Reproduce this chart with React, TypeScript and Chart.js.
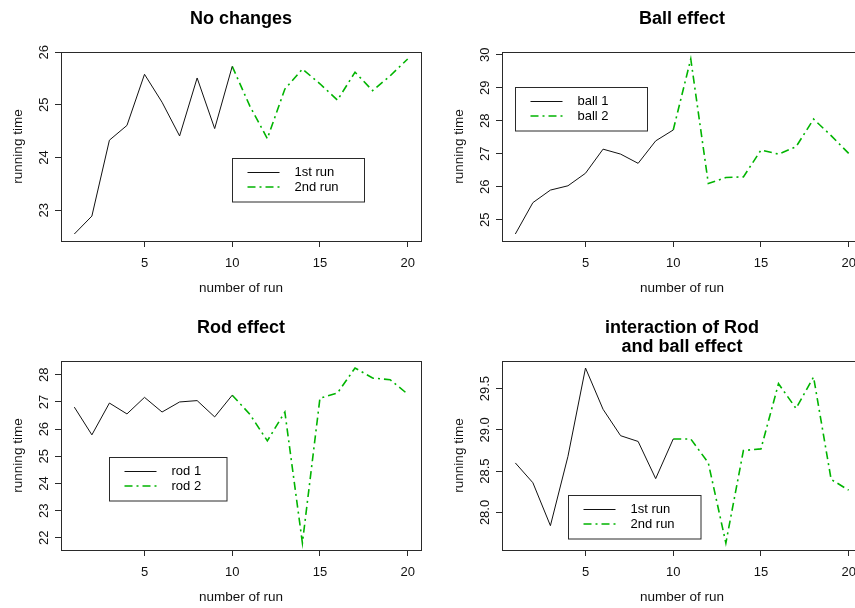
import React, { useEffect, useRef } from "react";
import { Chart, registerables } from "chart.js";

Chart.register(...registerables);

// ---------------- data ----------------
const firstRuns = [1, 2, 3, 4, 5, 6, 7, 8, 9, 10];
const secondRuns = [10, 11, 12, 13, 14, 15, 16, 17, 18, 19, 20];
const xTickValues = [5, 10, 15, 20];

// No changes
const noChange1st = [22.55, 22.89, 24.33, 24.61, 25.58, 25.05, 24.41, 25.51, 24.55, 25.73];
const noChange2nd = [25.73, 24.98, 24.36, 25.3, 25.68, 25.4, 25.09, 25.62, 25.27, 25.55, 25.87];
const noChangeYTicks = [23, 24, 25, 26];

// Ball effect
const ball1 = [24.57, 25.52, 25.9, 26.03, 26.41, 27.14, 26.99, 26.71, 27.39, 27.72];
const ball2 = [27.72, 29.87, 26.1, 26.28, 26.3, 27.11, 26.99, 27.21, 28.05, 27.55, 27.01];
const ballYTicks = [25, 26, 27, 28, 29, 30];

// Rod effect
const rod1 = [26.81, 25.79, 26.96, 26.56, 27.17, 26.63, 27.0, 27.05, 26.45, 27.25];
const rod2 = [27.25, 26.55, 25.57, 26.63, 21.81, 27.14, 27.33, 28.25, 27.88, 27.82, 27.29];
const rodYTicks = [22, 23, 24, 25, 26, 27, 28];

// interaction of Rod and ball effect
const inter1st = [28.6, 28.36, 27.84, 28.68, 29.75, 29.25, 28.93, 28.86, 28.41, 28.89];
const inter2nd = [28.89, 28.89, 28.6, 27.63, 28.75, 28.77, 29.56, 29.26, 29.64, 28.4, 28.27];
const interYTicks = [28.0, 28.5, 29.0, 29.5];

const xLabel = "number of run";
const yLabel = "running time";

// ---------------- styling ----------------
const FONT = '"Liberation Sans", Arial, Helvetica, sans-serif';
const INK = "#2a2a2a";
const GREEN = "#00b400";
const DOTDASH = [8, 4, 2, 4];

type Panel = {
  title: string[];
  s1: number[];
  s2: number[];
  labels: [string, string];
  yTicks: number[];
  yDec: number;
  left: number;
  top: number;
  legend: { x: number; y: number; w: number };
};

const panels: Panel[] = [
  { title: ["No changes"], s1: noChange1st, s2: noChange2nd, labels: ["1st run", "2nd run"], yTicks: noChangeYTicks, yDec: 0, left: 0, top: 0, legend: { x: 171, y: 105.5, w: 132 } },
  { title: ["Ball effect"], s1: ball1, s2: ball2, labels: ["ball 1", "ball 2"], yTicks: ballYTicks, yDec: 0, left: 441, top: 0, legend: { x: 13, y: 35, w: 132 } },
  { title: ["Rod effect"], s1: rod1, s2: rod2, labels: ["rod 1", "rod 2"], yTicks: rodYTicks, yDec: 0, left: 0, top: 309, legend: { x: 47.5, y: 95.5, w: 117.5 } },
  { title: ["interaction of Rod", "and ball effect"], s1: inter1st, s2: inter2nd, labels: ["1st run", "2nd run"], yTicks: interYTicks, yDec: 1, left: 441, top: 309, legend: { x: 65.5, y: 133.5, w: 132.5 } },
];

const CW = 428;
const CH = 304;

function measure(text: string, font: string): number {
  const c = document.createElement("canvas").getContext("2d");
  if (!c) return text.length * 7;
  c.font = font;
  return c.measureText(text).width;
}

const rPlot = {
  id: "rPlot",
  afterDraw(chart: any, _args: any, opts: any) {
    const { ctx, chartArea: a } = chart;
    ctx.save();
    // box around plot region
    ctx.strokeStyle = INK;
    ctx.lineWidth = 1;
    ctx.setLineDash([]);
    ctx.strokeRect(Math.round(a.left) + 0.5, Math.round(a.top) + 0.5, Math.round(a.right - a.left), Math.round(a.bottom - a.top));
    // title
    ctx.fillStyle = "#000";
    ctx.font = `bold 18px ${FONT}`;
    ctx.textAlign = "center";
    ctx.textBaseline = "middle";
    const cx = (a.left + a.right) / 2;
    (opts.title as string[]).forEach((line, i) => ctx.fillText(line, cx, a.top - 33 + i * 19));
    // legend
    const lg = opts.legend;
    const lx = Math.round(a.left + lg.x) + 0.5;
    const ly = Math.round(a.top + lg.y) + 0.5;
    ctx.strokeStyle = INK;
    ctx.lineWidth = 1;
    ctx.strokeRect(lx, ly, lg.w, 43.5);
    chart.data.datasets.forEach((ds: any, i: number) => {
      const y = ly + 14 + i * 14.5;
      ctx.beginPath();
      ctx.setLineDash(ds.borderDash || []);
      ctx.strokeStyle = ds.borderColor;
      ctx.lineWidth = ds.borderWidth;
      ctx.moveTo(lx + 15, y);
      ctx.lineTo(lx + 47, y);
      ctx.stroke();
      ctx.setLineDash([]);
      ctx.fillStyle = "#000";
      ctx.font = `13px ${FONT}`;
      ctx.textAlign = "left";
      ctx.textBaseline = "middle";
      ctx.fillText(ds.label, lx + 62, y);
    });
    ctx.restore();
  },
};

function RPanel({ p }: { p: Panel }) {
  const ref = useRef<HTMLCanvasElement | null>(null);
  useEffect(() => {
    if (!ref.current) return;
    const all = [...p.s1, ...p.s2];
    const yMin = Math.min(...all);
    const yMax = Math.max(...all);
    const yExt = (yMax - yMin) * 0.04;
    const xMin = 1 - 19 * 0.04;
    const xMax = 20 + 19 * 0.04;
    const tickFont = `13px ${FONT}`;
    const widest = Math.max(...p.yTicks.map((v) => measure(v.toFixed(p.yDec), tickFont)));
    const yPad = 11 - widest / 2;

    const chart = new Chart(ref.current, {
      type: "line",
      data: {
        datasets: [
          {
            label: p.labels[0],
            data: firstRuns.map((x, i) => ({ x, y: p.s1[i] })),
            borderColor: "#111",
            borderWidth: 1,
            pointRadius: 0,
            tension: 0,
            fill: false,
          },
          {
            label: p.labels[1],
            data: secondRuns.map((x, i) => ({ x, y: p.s2[i] })),
            borderColor: GREEN,
            borderWidth: 1.6,
            borderDash: DOTDASH,
            pointRadius: 0,
            tension: 0,
            fill: false,
          },
        ],
      },
      options: {
        animation: false,
        responsive: false,
        events: [],
        layout: { padding: { top: 52, right: 7, left: 0, bottom: 0 } },
        plugins: {
          legend: { display: false },
          tooltip: { enabled: false },
          title: { display: false },
          rPlot: { title: p.title, legend: p.legend },
        } as any,
        scales: {
          x: {
            type: "linear",
            min: xMin,
            max: xMax,
            afterBuildTicks: (s: any) => {
              s.ticks = xTickValues.map((v) => ({ value: v }));
            },
            afterFit: (s: any) => {
              s.height = 63;
            },
            grid: { display: true, drawOnChartArea: false, drawTicks: true, tickLength: 6, color: INK, lineWidth: 1 },
            border: { display: true, color: INK, width: 1 },
            ticks: {
              autoSkip: false,
              maxRotation: 0,
              padding: 9,
              color: "#111",
              font: { family: FONT, size: 13 },
              callback: (v: any) => String(v),
            },
            title: {
              display: true,
              text: xLabel,
              color: "#111",
              font: { family: FONT, size: 13.5 },
              padding: { top: 0, bottom: 7.5 },
            },
          },
          y: {
            type: "linear",
            min: yMin - yExt,
            max: yMax + yExt,
            afterBuildTicks: (s: any) => {
              s.ticks = p.yTicks.map((v) => ({ value: v }));
            },
            afterFit: (s: any) => {
              s.width = 61;
            },
            grid: { display: true, drawOnChartArea: false, drawTicks: true, tickLength: 6, color: INK, lineWidth: 1 },
            border: { display: true, color: INK, width: 1 },
            ticks: {
              autoSkip: false,
              minRotation: 90,
              maxRotation: 90,
              crossAlign: "center",
              padding: yPad,
              color: "#111",
              font: { family: FONT, size: 13 },
              callback: (v: any) => Number(v).toFixed(p.yDec),
            },
            title: {
              display: true,
              text: yLabel,
              color: "#111",
              font: { family: FONT, size: 13.5 },
              padding: { top: 10, bottom: 0 },
            },
          },
        },
      } as any,
      plugins: [rPlot as any],
    });
    return () => chart.destroy();
  }, [p]);

  return (
    <canvas
      ref={ref}
      width={CW}
      height={CH}
      style={{ position: "absolute", left: p.left, top: p.top, width: CW, height: CH }}
    />
  );
}

export default function App() {
  return (
    <div
      style={{
        position: "fixed",
        left: 0,
        top: 0,
        width: 855,
        height: 608,
        overflow: "hidden",
        background: "#fff",
      }}
    >
      {panels.map((p, i) => (
        <RPanel key={i} p={p} />
      ))}
    </div>
  );
}
